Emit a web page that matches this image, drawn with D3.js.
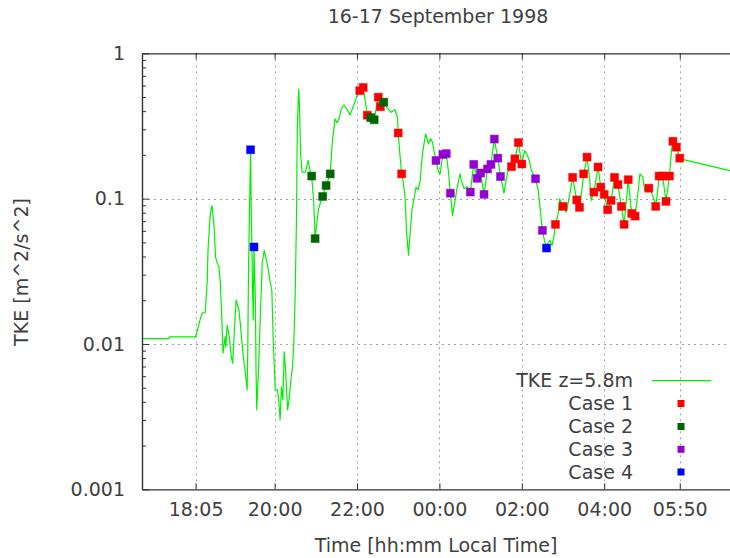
<!DOCTYPE html>
<html><head><meta charset="utf-8">
<script src="https://cdn.jsdelivr.net/npm/d3@7"></script>
<style>
html,body{margin:0;padding:0;background:#fff;}
svg{display:block;font-family:"DejaVu Sans",sans-serif;}
</style></head><body>
<svg id="chart" width="730" height="558"></svg>
<script>
// ---------------- data ----------------
const titleText = "16-17 September 1998";
const xAxisTitle = "Time [hh:mm Local Time]";
const yAxisTitle = "TKE [m^2/s^2]";
const xTickLabels = ["18:05","20:00","22:00","00:00","02:00","04:00","05:50"];
const yTickValues = [1, 0.1, 0.01, 0.001];
const yTickLabels = ["1","0.1","0.01","0.001"];
const legendLabels = ["TKE z=5.8m","Case 1","Case 2","Case 3","Case 4"];

// TKE at z=5.8 m : [local time, TKE m^2/s^2]
const tkeSeries = [
["16:47",0.0109],["17:26",0.0109],["17:27",0.0112],["18:05",0.0112],["18:07",0.0121],["18:12",0.0150],["18:15",0.0164],["18:19",0.0164],["18:22",0.0275],["18:23",0.0441],["18:26",0.0746],["18:28",0.088],["18:29",0.089],["18:32",0.0637],["18:34",0.0397],["18:36",0.0365],["18:39",0.0339],["18:41",0.0262],["18:43",0.0154],["18:45",0.00866],["18:48",0.0112],["18:49",0.00952],["18:51",0.0135],["18:54",0.0112],["18:57",0.00817],["18:59",0.00736],["19:02",0.0139],["19:04",0.0200],["19:08",0.0171],["19:10",0.0139],["19:13",0.00957],["19:15",0.00775],["19:17",0.00662],["19:20",0.00483],["19:21",0.00952],["19:22",0.0321],["19:24",0.114],["19:25",0.217],["19:26",0.083],["19:28",0.0234],["19:29",0.0146],["19:30",0.0465],["19:32",0.0200],["19:33",0.00662],["19:34",0.00352],["19:37",0.0074],["19:39",0.0146],["19:41",0.0262],["19:42",0.0365],["19:45",0.0441],["19:49",0.0359],["19:51",0.0321],["19:53",0.0275],["19:56",0.0234],["19:58",0.0106],["20:00",0.00631],["20:01",0.00483],["20:04",0.00483],["20:06",0.00412],["20:08",0.00300],["20:10",0.00508],["20:12",0.00412],["20:14",0.00884],["20:16",0.00662],["20:19",0.00352],["20:21",0.00412],["20:24",0.00583],["20:26",0.00683],["20:28",0.0101],["20:30",0.0217],["20:32",0.0808],["20:33",0.286],["20:35",0.568],["20:36",0.472],["20:37",0.303],["20:38",0.198],["20:40",0.152],["20:45",0.152],["20:49",0.183],["20:52",0.152],["20:54",0.143],["20:57",0.0946],["20:59",0.0531],["21:04",0.0852],["21:10",0.1035],["21:15",0.123],["21:21",0.148],["21:24",0.244],["21:28",0.354],["21:31",0.333],["21:34",0.354],["21:37",0.414],["21:41",0.441],["21:45",0.414],["21:50",0.377],["21:55",0.436],["22:00",0.511],["22:04",0.553],["22:09",0.582],["22:12",0.472],["22:15",0.375],["22:20",0.361],["22:25",0.349],["22:31",0.499],["22:34",0.429],["22:39",0.461],["22:45",0.414],["22:50",0.392],["22:55",0.410],["22:59",0.363],["23:00",0.283],["23:02",0.214],["23:05",0.148],["23:07",0.133],["23:10",0.102],["23:12",0.0605],["23:15",0.0408],["23:17",0.0544],["23:20",0.083],["23:23",0.0998],["23:26",0.120],["23:29",0.115],["23:32",0.133],["23:34",0.174],["23:36",0.214],["23:40",0.279],["23:44",0.238],["23:47",0.258],["23:50",0.244],["23:52",0.214],["23:55",0.183],["23:58",0.156],["00:01",0.148],["00:05",0.201],["00:10",0.204],["00:13",0.156],["00:16",0.109],["00:19",0.0767],["00:22",0.0923],["00:26",0.120],["00:30",0.148],["00:32",0.133],["00:36",0.117],["00:40",0.121],["00:45",0.111],["00:50",0.172],["00:55",0.138],["01:00",0.150],["01:05",0.107],["01:10",0.160],["01:15",0.172],["01:20",0.257],["01:25",0.190],["01:29",0.142],["01:32",0.123],["01:34",0.109],["01:38",0.141],["01:41",0.165],["01:45",0.166],["01:50",0.188],["01:55",0.243],["02:00",0.173],["02:04",0.214],["02:07",0.204],["02:11",0.183],["02:14",0.156],["02:20",0.137],["02:24",0.114],["02:27",0.083],["02:30",0.0605],["02:33",0.0516],["02:36",0.0457],["02:38",0.0493],["02:41",0.0516],["02:44",0.0477],["02:47",0.0559],["02:49",0.0665],["02:53",0.0788],["02:55",0.0998],["03:00",0.0884],["03:05",0.0808],["03:09",0.102],["03:14",0.140],["03:20",0.098],["03:24",0.0871],["03:28",0.120],["03:30",0.148],["03:35",0.193],["03:39",0.133],["03:41",0.0972],["03:45",0.111],["03:51",0.165],["03:55",0.120],["04:00",0.107],["04:05",0.0839],["04:10",0.0972],["04:15",0.140],["04:20",0.125],["04:25",0.0884],["04:29",0.0665],["04:35",0.135],["04:40",0.0791],["04:45",0.0758],["04:49",0.1085],["04:52",0.148],["04:56",0.141],["04:59",0.114],["05:05",0.118],["05:09",0.110],["05:13",0.0972],["05:15",0.0884],["05:18",0.114],["05:20",0.143],["05:25",0.143],["05:30",0.0957],["05:35",0.143],["05:38",0.214],["05:40",0.248],["05:45",0.226],["05:50",0.190],["05:57",0.185],["07:03",0.156]
];

const case1 = [["22:04",0.553],["22:09",0.582],["22:15",0.375],["22:31",0.499],["22:34",0.429],["23:00",0.283],["23:05",0.148],["01:45",0.166],["01:50",0.188],["01:55",0.243],["02:00",0.173],["02:49",0.0665],["03:00",0.0884],["03:14",0.140],["03:20",0.098],["03:24",0.0871],["03:30",0.148],["03:35",0.193],["03:45",0.111],["03:51",0.165],["03:55",0.120],["04:00",0.107],["04:05",0.0839],["04:10",0.0972],["04:15",0.140],["04:20",0.125],["04:25",0.0884],["04:29",0.0665],["04:35",0.135],["04:40",0.0791],["04:45",0.0758],["05:05",0.118],["05:15",0.0884],["05:20",0.143],["05:25",0.143],["05:30",0.0957],["05:35",0.143],["05:40",0.248],["05:45",0.226],["05:50",0.190]];
const case2 = [["20:54",0.143],["20:59",0.0531],["21:10",0.1035],["21:15",0.123],["21:21",0.148],["22:20",0.361],["22:25",0.349],["22:39",0.461]];
const case3 = [["23:55",0.183],["00:05",0.201],["00:10",0.204],["00:16",0.109],["00:45",0.111],["00:50",0.172],["00:55",0.138],["01:00",0.150],["01:05",0.107],["01:10",0.160],["01:15",0.172],["01:20",0.257],["01:25",0.190],["01:29",0.142],["02:20",0.137],["02:30",0.0605]];
const case4 = [["19:25",0.217],["19:30",0.0465],["02:36",0.0457]];

// ---------------- styles ----------------
const lineColor = "#00f000";
const caseColors = ["#ff0000", "#006400", "#9400d3", "#0000ff"];
const textColor = "#404040";
const axisColor = "#303030";
const gridColor = "#a0a0a0";
const fontSize = "19px";

// hours relative to local midnight between 16 and 17 Sept
function toHours(s) {
  const [h, m] = s.split(":").map(Number);
  let v = h + m / 60;
  if (h >= 12) v -= 24;
  return v;
}

const L = 142, R = 730, T = 53.3, B = 489.3;
const svg = d3.select("#chart");
const x = d3.scaleLinear().domain([-7.218, 7.053]).range([L, R]);
const y = d3.scaleLog().domain([0.001, 1]).range([B, T]);

const xTickVals = xTickLabels.map(toHours);
const fmtX = d => xTickLabels[xTickVals.indexOf(d)];
const fmtY = d => yTickLabels[yTickValues.indexOf(d)];

// grid
const grid = svg.append("g").attr("stroke", gridColor).attr("stroke-width", 1)
  .attr("stroke-dasharray", "2,4");
grid.selectAll("line.vx").data(xTickVals).join("line")
  .attr("x1", d => Math.round(x(d)) + 0.5).attr("x2", d => Math.round(x(d)) + 0.5)
  .attr("y1", T).attr("y2", B);
grid.selectAll("line.hy").data([0.1, 0.01]).join("line")
  .attr("x1", L).attr("x2", R)
  .attr("y1", d => Math.round(y(d)) + 0.5).attr("y2", d => Math.round(y(d)) + 0.5);

// clip
svg.append("clipPath").attr("id", "clip").append("rect")
  .attr("x", L).attr("y", T - 6).attr("width", R - L + 10).attr("height", B - T + 12);

const plot = svg.append("g").attr("clip-path", "url(#clip)");
const line = d3.line().x(d => x(toHours(d[0]))).y(d => y(d[1]));
plot.append("path").datum(tkeSeries).attr("d", line)
  .attr("fill", "none").attr("stroke", lineColor).attr("stroke-width", 1.2)
  .attr("stroke-linejoin", "round");

const ms = 8;
[case1, case2, case3, case4].forEach((cs, i) => {
  plot.append("g").selectAll("rect").data(cs).join("rect")
    .attr("x", d => x(toHours(d[0])) - ms / 2)
    .attr("y", d => y(d[1]) - ms / 2)
    .attr("width", ms).attr("height", ms)
    .attr("fill", caseColors[i])
    .attr("stroke", caseColors[i]).attr("stroke-opacity", 0.45).attr("stroke-width", 1);
});

// axes
function styleAxis(g) {
  g.select(".domain").attr("stroke", axisColor).attr("stroke-width", 1.2);
  g.selectAll(".tick line").attr("stroke", axisColor).attr("stroke-width", 1);
  g.selectAll(".tick text").attr("fill", textColor).style("font-size", fontSize)
    .style("font-family", '"DejaVu Sans", sans-serif');
}
svg.append("g").attr("transform", `translate(0,${B})`)
  .call(d3.axisBottom(x).tickValues(xTickVals).tickFormat(fmtX)
    .tickSizeInner(-6).tickSizeOuter(0).tickPadding(13))
  .call(styleAxis);
svg.append("g").attr("transform", `translate(0,${T})`)
  .call(d3.axisTop(x).tickValues(xTickVals).tickFormat("")
    .tickSizeInner(-6).tickSizeOuter(0))
  .call(styleAxis);
svg.append("g").attr("transform", `translate(${L},0)`)
  .call(d3.axisLeft(y).tickValues(yTickValues).tickFormat(fmtY)
    .tickSizeInner(-7).tickSizeOuter(0).tickPadding(17))
  .call(styleAxis);
const minors = [];
[0.001, 0.01, 0.1].forEach(b => { for (let k = 2; k <= 9; k++) minors.push(b * k); });
svg.append("g").attr("transform", `translate(${L},0)`)
  .call(d3.axisLeft(y).tickValues(minors).tickFormat("")
    .tickSizeInner(-4).tickSizeOuter(0))
  .call(styleAxis);

// titles
svg.append("text").attr("x", 438).attr("y", 23).attr("text-anchor", "middle")
  .attr("fill", textColor).style("font-size", fontSize).text(titleText);
svg.append("text").attr("x", 436).attr("y", 552).attr("text-anchor", "middle")
  .attr("fill", textColor).style("font-size", fontSize).text(xAxisTitle);
svg.append("text").attr("transform", "translate(28,272) rotate(-90)")
  .attr("text-anchor", "middle").attr("fill", textColor)
  .style("font-size", fontSize).text(yAxisTitle);

// legend
const lg = svg.append("g");
const legY = [380.7, 403.5, 426.5, 449.3, 472];
legendLabels.forEach((lab, i) => {
  lg.append("text").attr("x", 633).attr("y", legY[i]).attr("dy", "0.35em")
    .attr("text-anchor", "end").attr("fill", textColor).style("font-size", fontSize).text(lab);
  if (i === 0) {
    lg.append("line").attr("x1", 652).attr("x2", 711).attr("y1", legY[i]).attr("y2", legY[i])
      .attr("stroke", lineColor).attr("stroke-width", 1.2);
  } else {
    lg.append("rect").attr("x", 681 - 3.5).attr("y", legY[i] - 3.5)
      .attr("width", 7).attr("height", 7).attr("fill", caseColors[i - 1]);
  }
});
</script>
</body></html>
